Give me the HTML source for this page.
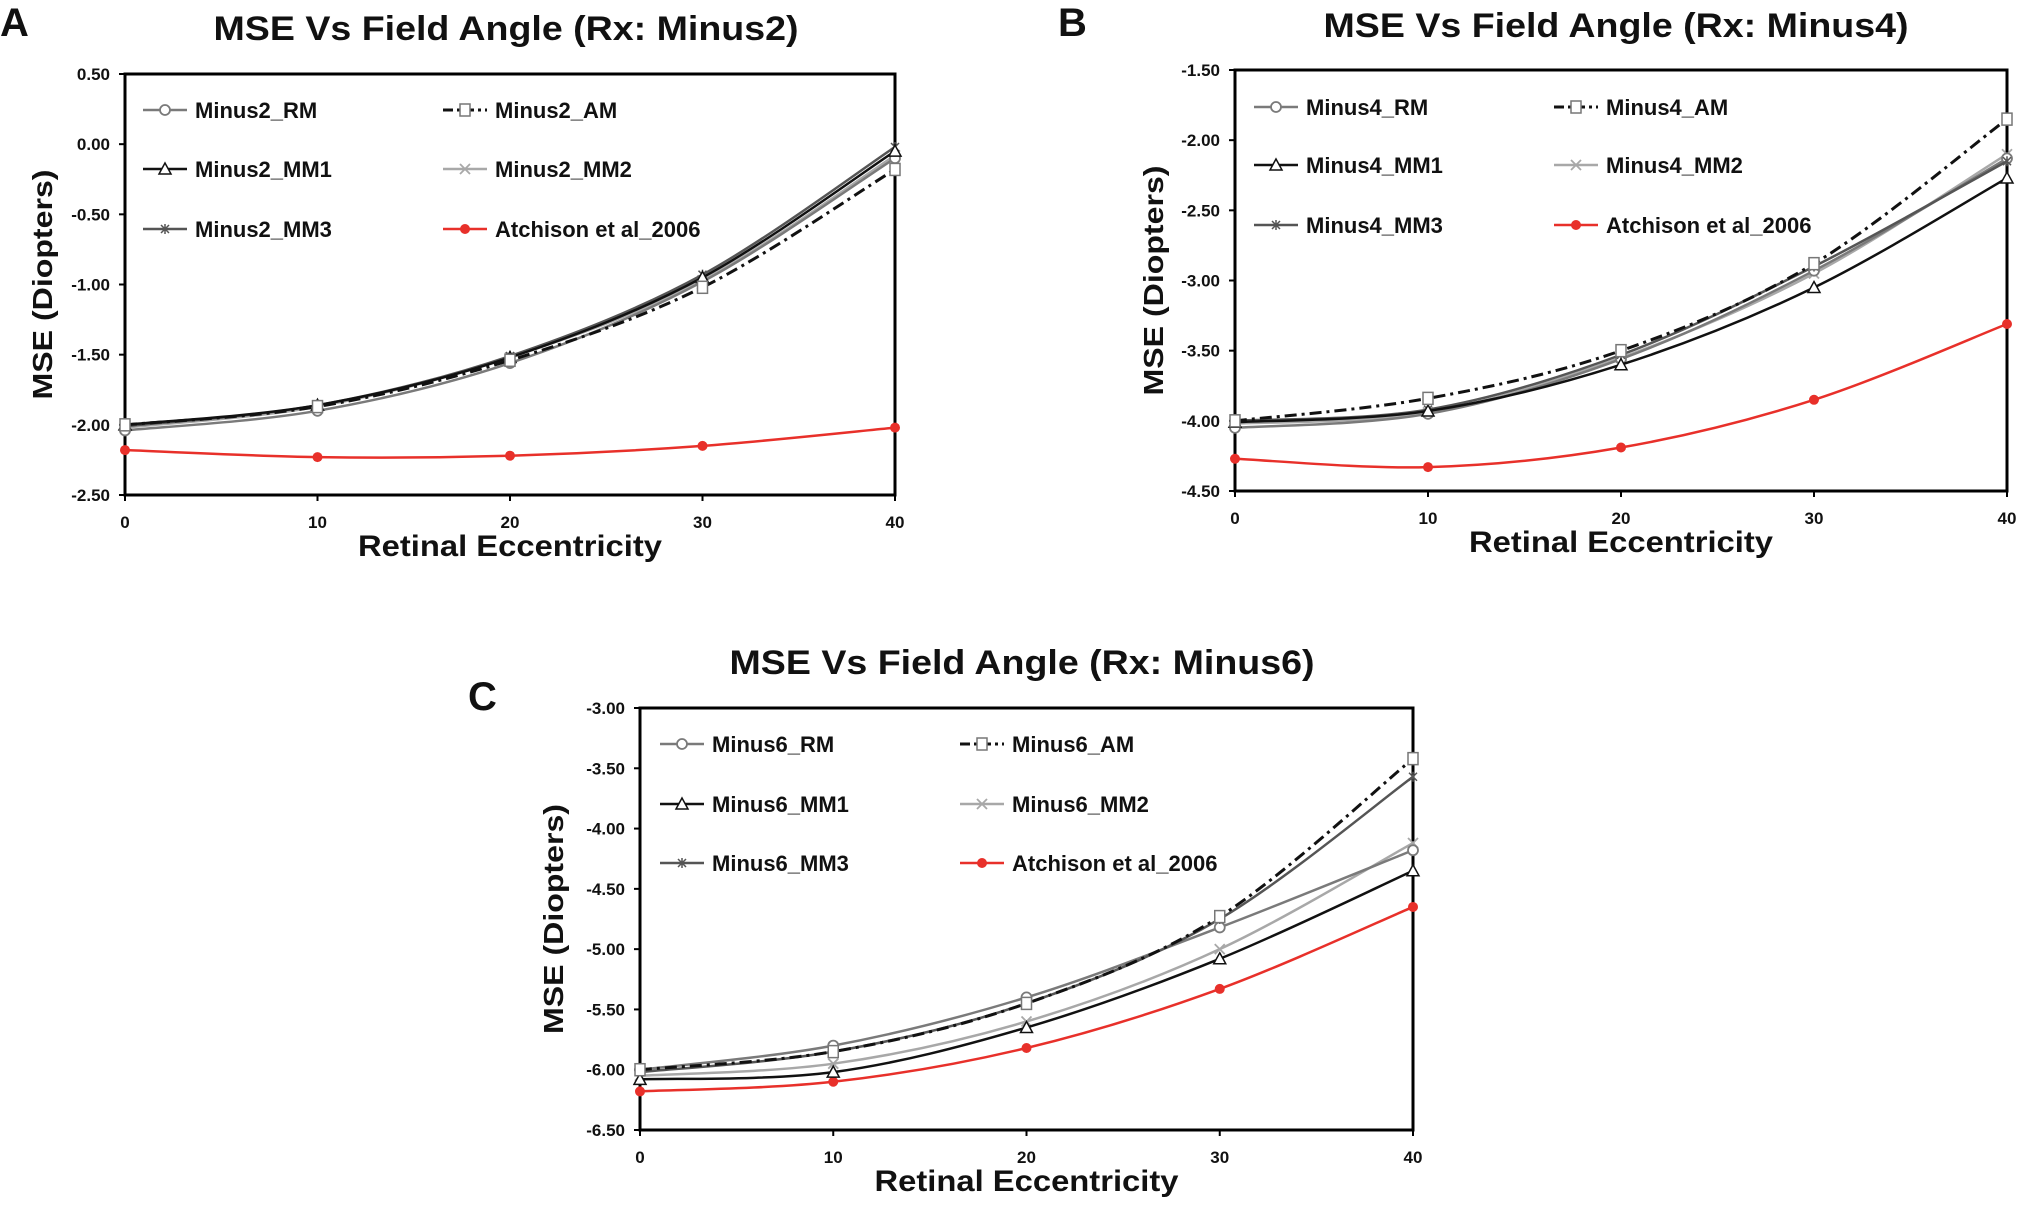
<!DOCTYPE html>
<html><head><meta charset="utf-8"><style>
html,body{margin:0;padding:0;background:#fff;}
svg text{font-family:"Liberation Sans",Arial,sans-serif;font-weight:bold;fill:#111;}
</style></head><body>
<svg id="fig" width="2025" height="1200" viewBox="0 0 2025 1200" xmlns="http://www.w3.org/2000/svg"></svg>
<script>
// shared x categories
const xValues = [0, 10, 20, 30, 40];
const xTickLabels = ["0", "10", "20", "30", "40"];
const seriesNames = ["RM", "AM", "MM1", "MM2", "MM3", "Atchison"];

// Panel A (Minus2)
const aRM  = [-2.04, -1.90, -1.56, -0.98, -0.10];
const aAM  = [-2.00, -1.87, -1.54, -1.02, -0.18];
const aMM1 = [-2.00, -1.86, -1.52, -0.95, -0.05];
const aMM2 = [-2.02, -1.87, -1.52, -0.97, -0.08];
const aMM3 = [-2.01, -1.86, -1.51, -0.93, -0.02];
const aATC = [-2.18, -2.23, -2.22, -2.15, -2.02];
const aYTicks = [0.5, 0.0, -0.5, -1.0, -1.5, -2.0, -2.5];
const aYTickLabels = ["0.50", "0.00", "-0.50", "-1.00", "-1.50", "-2.00", "-2.50"];

// Panel B (Minus4)
const bRM  = [-4.05, -3.95, -3.56, -2.93, -2.13];
const bAM  = [-4.00, -3.84, -3.50, -2.88, -1.85];
const bMM1 = [-4.01, -3.93, -3.60, -3.05, -2.27];
const bMM2 = [-4.02, -3.94, -3.55, -2.95, -2.10];
const bMM3 = [-4.00, -3.92, -3.53, -2.90, -2.15];
const bATC = [-4.27, -4.33, -4.19, -3.85, -3.31];
const bYTicks = [-1.5, -2.0, -2.5, -3.0, -3.5, -4.0, -4.5];
const bYTickLabels = ["-1.50", "-2.00", "-2.50", "-3.00", "-3.50", "-4.00", "-4.50"];

// Panel C (Minus6)
const cRM  = [-6.00, -5.80, -5.40, -4.82, -4.18];
const cAM  = [-6.00, -5.85, -5.45, -4.73, -3.42];
const cMM1 = [-6.08, -6.02, -5.65, -5.08, -4.35];
const cMM2 = [-6.05, -5.95, -5.60, -5.00, -4.12];
const cMM3 = [-6.02, -5.85, -5.45, -4.75, -3.57];
const cATC = [-6.18, -6.10, -5.82, -5.33, -4.65];
const cYTicks = [-3.0, -3.5, -4.0, -4.5, -5.0, -5.5, -6.0, -6.5];
const cYTickLabels = ["-3.00", "-3.50", "-4.00", "-4.50", "-5.00", "-5.50", "-6.00", "-6.50"];

const NS = "http://www.w3.org/2000/svg";
const svg = document.getElementById("fig");
function mk(tag, attrs, parent, text) {
  const e = document.createElementNS(NS, tag);
  for (const k in attrs) e.setAttribute(k, attrs[k]);
  if (text !== undefined) e.textContent = text;
  (parent || svg).appendChild(e);
  return e;
}
const styles = {
  RM:   {stroke:"#7a7a7a", dash:"", marker:"circle", w:2.5},
  AM:   {stroke:"#111", dash:"12,5,3,5", marker:"square", w:3},
  MM1:  {stroke:"#111", dash:"", marker:"triangle", w:2.5},
  MM2:  {stroke:"#a8a8a8", dash:"", marker:"x", w:2.5},
  MM3:  {stroke:"#555", dash:"", marker:"star", w:2.5},
  Atchison: {stroke:"#e8302a", dash:"", marker:"dot", w:2.5}
};
function marker(g, type, x, y, color) {
  let m;
  if (type === "circle") m = mk("circle", {cx:x, cy:y, r:5, fill:"#fff", stroke:color, "stroke-width":1.8}, g);
  else if (type === "square") m = mk("rect", {x:x-5, y:y-6, width:10, height:12, fill:"#fff", stroke:"#777", "stroke-width":1.5}, g);
  else if (type === "triangle") m = mk("path", {d:`M${x},${y-6} L${x+6},${y+5} L${x-6},${y+5} Z`, fill:"#fff", stroke:color, "stroke-width":1.5}, g);
  else if (type === "x") m = mk("path", {d:`M${x-5},${y-5} L${x+5},${y+5} M${x-5},${y+5} L${x+5},${y-5}`, stroke:color, "stroke-width":1.8, fill:"none"}, g);
  else if (type === "star") m = mk("path", {d:`M${x-4},${y-4} L${x+4},${y+4} M${x-4},${y+4} L${x+4},${y-4} M${x},${y-5} L${x},${y+5}`, stroke:color, "stroke-width":1.5, fill:"none"}, g);
  else m = mk("circle", {cx:x, cy:y, r:5, fill:color}, g);
  
  
}
function smoothPath(pts) {
  let d = `M${pts[0][0]},${pts[0][1]}`;
  for (let i = 0; i < pts.length - 1; i++) {
    const p0 = pts[Math.max(0, i-1)], p1 = pts[i], p2 = pts[i+1], p3 = pts[Math.min(pts.length-1, i+2)];
    const c1x = p1[0] + (p2[0]-p0[0])/6, c1y = p1[1] + (p2[1]-p0[1])/6;
    const c2x = p2[0] - (p3[0]-p1[0])/6, c2y = p2[1] - (p3[1]-p1[1])/6;
    d += ` C${c1x},${c1y} ${c2x},${c2y} ${p2[0]},${p2[1]}`;
  }
  return d;
}
function panel(cfg) {
  const g = mk("g", {});
  
  
  const {L, R, T, B, ymax, ymin} = cfg;
  const xs = v => L + (v - xValues[0]) / (xValues[xValues.length-1] - xValues[0]) * (R - L);
  const ys = v => T + (ymax - v) / (ymax - ymin) * (B - T);

  const lt = mk("text", {x:cfg.letterX, y:cfg.letterY, "font-size":40}, g, cfg.letter);
  
  
  const ti = mk("text", {x:cfg.titleX, y:cfg.titleY, "font-size":34, "text-anchor":"middle", textLength:585, lengthAdjust:"spacingAndGlyphs"}, g, cfg.title);
  
  

  const frame = mk("rect", {x:L, y:T, width:R-L, height:B-T, fill:"#fff", stroke:"#000", "stroke-width":3}, g);
  
  

  cfg.yTicks.forEach((v, i) => {
    const y = ys(v);
    const tk = mk("line", {x1:L-6, x2:L, y1:y, y2:y, stroke:"#000", "stroke-width":2}, g);
    
    
    const tl = mk("text", {x:L-15, y:y+6, "font-size":17, "text-anchor":"end"}, g, cfg.yTickLabels[i]);
    
    
  });
  xValues.forEach((v, i) => {
    const x = xs(v);
    const tk = mk("line", {x1:x, x2:x, y1:B, y2:B+6, stroke:"#000", "stroke-width":2}, g);
    
    
    const tl = mk("text", {x:x, y:B+33, "font-size":17, "text-anchor":"middle"}, g, xTickLabels[i]);
    
    
  });
  const xt = mk("text", {x:(L+R)/2, y:B+61, "font-size":30, "text-anchor":"middle", textLength:304, lengthAdjust:"spacingAndGlyphs"}, g, "Retinal Eccentricity");
  
  
  const yt = mk("text", {x:0, y:0, "font-size":28, "text-anchor":"middle", transform:`translate(${cfg.yTitleX},${(T+B)/2}) rotate(-90)`, textLength:230, lengthAdjust:"spacingAndGlyphs"}, g, "MSE (Diopters)");
  
  

  const order = ["Atchison", "MM2", "RM", "MM3", "MM1", "AM"];
  order.forEach(name => {
    const idx = seriesNames.indexOf(name);
    const vals = cfg.series[idx];
    const st = styles[name];
    const pts = vals.map((v, i) => [xs(xValues[i]), ys(v)]);
    const sg = mk("g", {}, g);
    
    
    const p = mk("path", {d:smoothPath(pts), fill:"none", stroke:st.stroke, "stroke-width":st.w, "stroke-dasharray":st.dash}, sg);
    
    
    pts.forEach(pt => marker(sg, st.marker, pt[0], pt[1], st.stroke));
  });

  const lg = mk("g", {}, g);
  
  
  const labels = [cfg.prefix + "_RM", cfg.prefix + "_AM", cfg.prefix + "_MM1", cfg.prefix + "_MM2", cfg.prefix + "_MM3", "Atchison et al_2006"];
  labels.forEach((lab, i) => {
    const col = i % 2, row = Math.floor(i / 2);
    const x0 = cfg.legCols[col], y0 = cfg.legRows[row];
    const st = styles[seriesNames[i]];
    const eg = mk("g", {}, lg);
    
    
    mk("line", {x1:x0, x2:x0+44, y1:y0, y2:y0, stroke:st.stroke, "stroke-width":st.w, "stroke-dasharray":st.dash ? "10,4,3,4" : ""}, eg);
    marker(eg, st.marker, x0+22, y0, st.stroke);
    const t = mk("text", {x:x0+52, y:y0+8, "font-size":22}, eg, lab);
    
    
  });
}
panel({letter:"A", letterX:0, letterY:36, title:"MSE Vs Field Angle (Rx: Minus2)", titleX:506, titleY:40,
  L:125, R:895, T:74, B:495, ymax:0.5, ymin:-2.5, yTicks:aYTicks, yTickLabels:aYTickLabels, yTitleX:52,
  series:[aRM, aAM, aMM1, aMM2, aMM3, aATC], prefix:"Minus2", legCols:[143, 443], legRows:[110, 169, 229]});
panel({letter:"B", letterX:1058, letterY:36, title:"MSE Vs Field Angle (Rx: Minus4)", titleX:1616, titleY:37,
  L:1235, R:2007, T:70, B:491, ymax:-1.5, ymin:-4.5, yTicks:bYTicks, yTickLabels:bYTickLabels, yTitleX:1163,
  series:[bRM, bAM, bMM1, bMM2, bMM3, bATC], prefix:"Minus4", legCols:[1254, 1554], legRows:[107, 165, 225]});
panel({letter:"C", letterX:468, letterY:710, title:"MSE Vs Field Angle (Rx: Minus6)", titleX:1022, titleY:674,
  L:640, R:1413, T:708, B:1130, ymax:-3.0, ymin:-6.5, yTicks:cYTicks, yTickLabels:cYTickLabels, yTitleX:563,
  series:[cRM, cAM, cMM1, cMM2, cMM3, cATC], prefix:"Minus6", legCols:[660, 960], legRows:[744, 804, 863]});
</script>
</body></html>
